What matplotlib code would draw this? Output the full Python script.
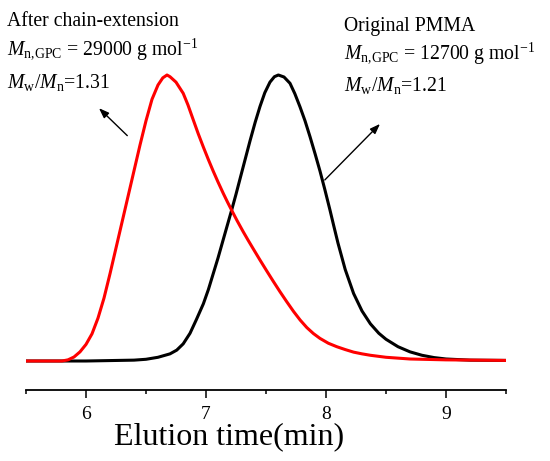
import matplotlib
matplotlib.use("Agg")
import matplotlib.pyplot as plt

plt.rcParams['font.family'] = ['Liberation Serif', 'DejaVu Serif']
plt.rcParams['mathtext.fontset'] = 'custom'
plt.rcParams['mathtext.rm'] = 'Liberation Serif'
plt.rcParams['mathtext.it'] = 'Liberation Serif:italic'

# ---- data ----
black_t = [5.5, 6.0, 6.4, 6.5, 6.6, 6.7, 6.756, 6.81, 6.867, 6.92, 6.978, 7.02, 7.06,
           7.1, 7.144, 7.18, 7.214, 7.25, 7.283, 7.325, 7.367, 7.41, 7.45, 7.49, 7.533,
           7.57, 7.603, 7.65, 7.70, 7.74, 7.783, 7.825, 7.867, 7.91, 7.95, 7.99, 8.033,
           8.065, 8.10, 8.16, 8.23, 8.30, 8.37, 8.44, 8.5, 8.6, 8.7, 8.8, 8.9, 9.0,
           9.2, 9.5]
black_y = [0.0, 0.0, 0.003, 0.006, 0.013, 0.025, 0.038, 0.06, 0.097, 0.145, 0.20, 0.25, 0.305,
           0.36, 0.425, 0.478, 0.528, 0.583, 0.636, 0.703, 0.77, 0.835, 0.89, 0.938, 0.975,
           0.994, 1.0, 0.993, 0.971, 0.935, 0.889, 0.84, 0.784, 0.723, 0.664, 0.60, 0.528,
           0.472, 0.412, 0.32, 0.236, 0.175, 0.13, 0.097, 0.076, 0.05, 0.032, 0.02, 0.012, 0.007,
           0.003, 0.002]

red_t = [5.5, 5.8, 5.85, 5.9, 5.95, 6.0, 6.05, 6.1, 6.15, 6.2, 6.25, 6.3, 6.35, 6.4,
         6.45, 6.5, 6.55, 6.6, 6.64, 6.675, 6.70, 6.75, 6.81, 6.85, 6.894, 6.935, 6.978,
         7.02, 7.06, 7.1, 7.144, 7.18, 7.214, 7.26, 7.31, 7.35, 7.394, 7.45, 7.506, 7.56,
         7.617, 7.67, 7.73, 7.785, 7.84, 7.895, 7.95, 8.02, 8.09, 8.16, 8.23, 8.3, 8.37,
         8.5, 8.7, 9.0, 9.5]
red_y = [0.0, 0.0, 0.004, 0.014, 0.032, 0.058, 0.095, 0.15, 0.22, 0.305, 0.395, 0.485, 0.575, 0.665,
         0.755, 0.84, 0.915, 0.965, 0.99, 1.0, 0.994, 0.975, 0.936, 0.895, 0.843, 0.795, 0.748,
         0.704, 0.664, 0.626, 0.586, 0.555, 0.527, 0.49, 0.452, 0.423, 0.392, 0.353, 0.315, 0.279,
         0.242, 0.209, 0.173, 0.143, 0.117, 0.096, 0.079, 0.062, 0.05, 0.04, 0.031, 0.025, 0.02,
         0.013, 0.007, 0.004, 0.002]

major_ticks = [6, 7, 8, 9]
minor_ticks = [5.5, 6.5, 7.5, 8.5, 9.5]
tick_labels = ['6', '7', '8', '9']

W, H = 550, 461
fig = plt.figure(figsize=(W / 100, H / 100), dpi=100)
ax = fig.add_axes([26 / W, 1 - 390 / H, 480 / W, 380 / H])

ax.plot(black_t, black_y, color='black', lw=2.2, solid_joinstyle='round')
ax.plot(red_t, red_y, color='#ff0000', lw=2.2, solid_joinstyle='round')

ax.set_xlim(5.5, 9.5)
ax.set_ylim(-29 / 286, (361 - 10) / 286)

for s in ['left', 'right', 'top']:
    ax.spines[s].set_visible(False)
ax.spines['bottom'].set_linewidth(1.3)
ax.set_yticks([])
ax.set_xticks(major_ticks)
ax.set_xticklabels(tick_labels)
ax.set_xticks(minor_ticks, minor=True)
ax.tick_params(axis='x', which='major', direction='out', length=5.5, width=1.1,
               labelsize=14, pad=6)
ax.tick_params(axis='x', which='minor', direction='out', length=3.2, width=1.1)

lab = ax.set_xlabel('Elution time(min)', fontsize=23)
ax.xaxis.set_label_coords((229 - 26) / 480, (390 - 444) / 380)
lab.set_va('baseline')

def ftext(px, py, s, size):
    fig.text(px / W, 1 - py / H, s, va='baseline', ha='left', fontsize=size)

ftext(7, 26, 'After chain-extension', 14.2)
ftext(7, 55, r'$M_{\mathrm{n{,}GPC}}$ = 29000 g mol$^{\mathrm{-1}}$', 14.2)
ftext(7, 88, r'$M_{\mathrm{w}}/M_{\mathrm{n}}$=1.31', 14.2)

ftext(344, 31, 'Original PMMA', 14.2)
ftext(344, 59, r'$M_{\mathrm{n{,}GPC}}$ = 12700 g mol$^{\mathrm{-1}}$', 14.2)
ftext(344, 91, r'$M_{\mathrm{w}}/M_{\mathrm{n}}$=1.21', 14.2)

arrow = dict(arrowstyle='-|>,head_length=0.6,head_width=0.22', color='black', lw=1.0,
             shrinkA=0, shrinkB=0)
ax.annotate('', xy=(6.108, 0.884), xytext=(6.344, 0.788), arrowprops=arrow)
ax.annotate('', xy=(8.45, 0.829), xytext=(7.99, 0.633), arrowprops=arrow)

fig.savefig('out.png', dpi=100)
